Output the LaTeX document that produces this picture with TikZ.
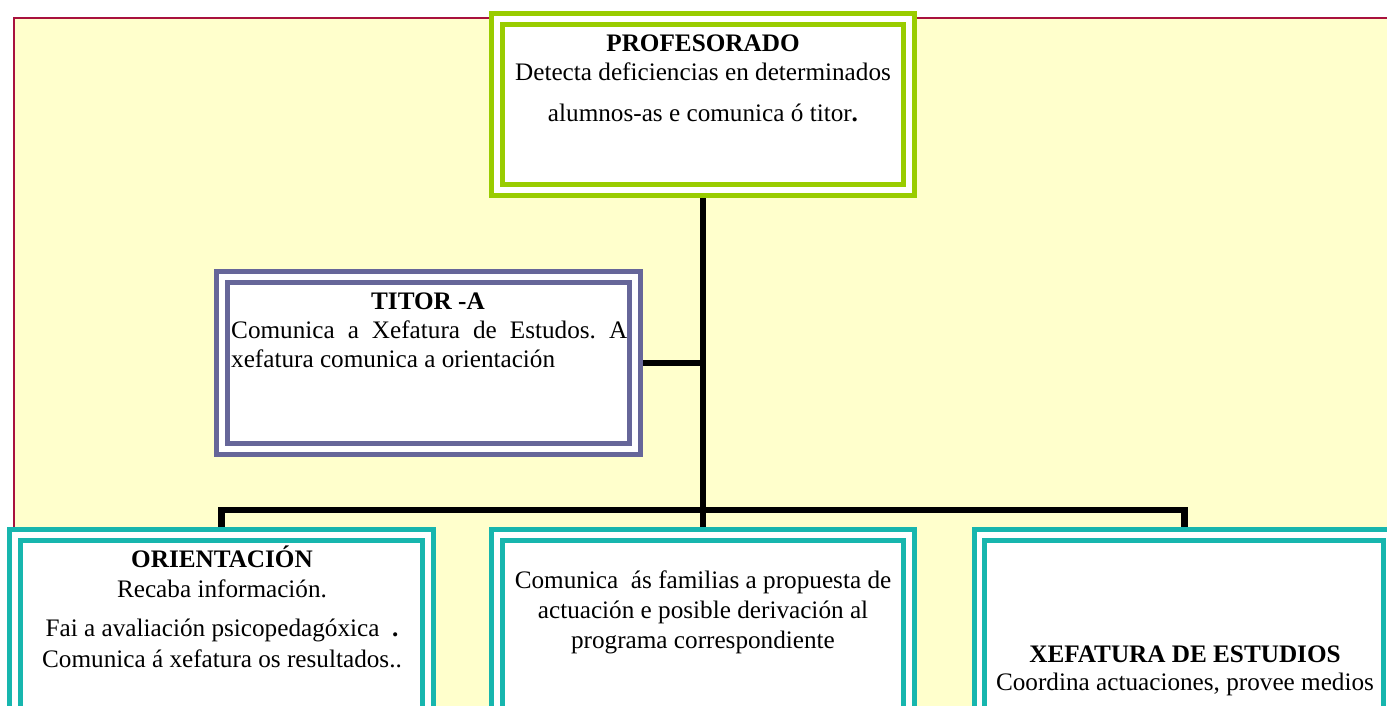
\documentclass[tikz,border=0pt]{standalone}
\usepackage{fontspec}
\setmainfont{Liberation Serif}
\usetikzlibrary{backgrounds}
\frenchspacing
\definecolor{bgyellow}{HTML}{FFFFCC}
\definecolor{crimson}{HTML}{A8123E}
\definecolor{frgreen}{HTML}{99CC00}
\definecolor{frslate}{HTML}{666699}
\definecolor{frteal}{HTML}{17B6AE}
\tikzset{
  dbl/.style={draw=#1, line width=5.3pt, double=white, double distance=5.3pt,
    fill=white, rectangle, inner sep=0pt, minimum width=413pt},
  txt/.style={anchor=base, inner sep=0pt, font=\fontsize{25.2}{29}\selectfont},
  ttl/.style={txt, font=\fontsize{25.2}{29}\selectfont\bfseries},
  conn/.style={draw=black, line width=6.5pt}
}
\begin{document}
\begin{tikzpicture}[x=1pt,y=-1pt]
\useasboundingbox (0,0) rectangle (1387,705);
% boxes
\node[dbl=frgreen, minimum width=412pt, minimum height=171pt] (top) at (703,104.5) {};
\node[dbl=frslate, minimum height=172pt] (tit) at (428.5,363) {};
\node[dbl=frteal, minimum height=245pt] (ori) at (221.5,657.5) {};
\node[dbl=frteal, minimum width=412pt, minimum height=245pt] (mid) at (703,657.5) {};
\node[dbl=frteal, minimum width=409.6pt, minimum height=245pt] (xef) at (1184.3,657.5) {};
\coordinate (bus) at (704,510);
% texts
\node[ttl] (t1) at (703,51) {PROFESORADO};
\node[txt] (t2) at (703,80) {Detecta deficiencias en determinados};
\node[txt] (t3) at (703,121) {alumnos-as e comunica ó titor\textbf{.}};
\node[ttl] (a1) at (428,309) {TITOR -A};
\node[txt, anchor=base west] (a2) at (231,338) {\makebox[396pt][s]{Comunica a Xefatura de Estudos. A}};
\node[txt, anchor=base west] (a3) at (231,367) {xefatura comunica a orientación};
\node[ttl] (o1) at (222,567) {ORIENTACIÓN};
\node[txt] (o2) at (222,597) {Recaba información.};
\node[txt] (o3) at (222,636) {Fai a avaliación psicopedagóxica\ \ \textbf{.}};
\node[txt] (o4) at (222,667) {Comunica á xefatura os resultados..};
\node[txt] (m1) at (703,588) {Comunica\ \ ás familias a propuesta de};
\node[txt] (m2) at (703,618) {actuación e posible derivación al};
\node[txt] (m3) at (703,648) {programa correspondiente};
\node[ttl] (x1) at (1185,662) {XEFATURA DE ESTUDIOS};
\node[txt] (x2) at (1185,690) {Coordina actuaciones, provee medios};
% background and connectors
\begin{scope}[on background layer]
  \fill[bgyellow] (14.3,17.7) rectangle (1420,740);
  \draw[crimson, line width=2pt] (1420,17.7) -- (14.3,17.7) -- (14.3,740);
  \draw[conn] (top) -- (mid);
  \draw[conn] (tit) -- (tit -| top);
  \draw[conn] (ori) |- (bus) -| (xef);
\end{scope}
\end{tikzpicture}
\end{document}
